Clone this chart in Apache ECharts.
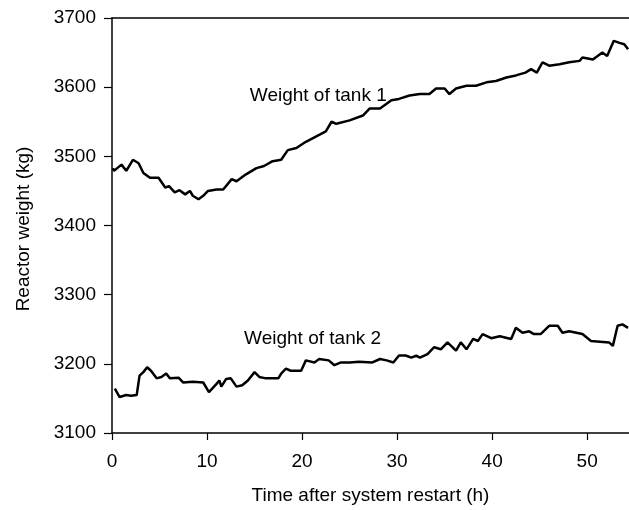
<!DOCTYPE html>
<html>
<head>
<meta charset="utf-8">
<script src="https://cdn.jsdelivr.net/npm/echarts@6/dist/echarts.min.js"></script>
<style>
  html, body { margin: 0; padding: 0; background: #fff; }
  #main { width: 629px; height: 510px; }
</style>
</head>
<body>
<div id="main"></div>
<script>
// tank 1 (time h, weight kg)
var t1 = [0.1, 0.2, 1.0, 1.5, 2.2, 2.8, 3.3, 4.0, 4.9, 5.6, 6.0, 6.6, 7.1, 7.7, 8.2, 8.5, 9.1, 9.6, 10.1, 11.0, 11.7, 12.6, 13.1, 14.1, 15.2, 16.0, 16.9, 17.8, 18.5, 19.4, 20.4, 21.5, 22.5, 23.1, 23.6, 25.0, 26.4, 27.1, 28.2, 29.4, 30.2, 31.3, 32.4, 33.4, 34.1, 35.0, 35.5, 36.2, 37.3, 38.3, 39.4, 40.4, 41.5, 42.5, 43.5, 44.1, 44.7, 45.3, 46.0, 47.1, 48.1, 49.2, 49.5, 50.6, 51.6, 52.1, 52.8, 53.4, 53.9, 54.3];
var w1 = [3483, 3479, 3488, 3479, 3495, 3490, 3476, 3469, 3469, 3455, 3457, 3448, 3451, 3445, 3450, 3443, 3438, 3443, 3450, 3452, 3452, 3467, 3464, 3474, 3483, 3486, 3493, 3495, 3509, 3512, 3521, 3529, 3536, 3550, 3547, 3552, 3559, 3569, 3569, 3581, 3583, 3588, 3590, 3590, 3598, 3598, 3590, 3598, 3602, 3602, 3607, 3609, 3614, 3617, 3621, 3626, 3621, 3636, 3631, 3633, 3636, 3638, 3643, 3640, 3650, 3645, 3667, 3664, 3662, 3655];

// tank 2
var t2 = [0.3, 0.8, 1.5, 2.0, 2.6, 2.9, 3.3, 3.7, 4.1, 4.7, 5.2, 5.7, 6.1, 7.0, 7.5, 8.5, 9.6, 10.2, 11.0, 11.3, 11.5, 12.0, 12.5, 13.1, 13.7, 14.3, 15.0, 15.5, 16.2, 17.5, 17.8, 18.3, 18.8, 19.9, 20.4, 21.3, 21.8, 22.8, 23.4, 24.1, 25.0, 26.0, 27.4, 28.2, 28.9, 29.6, 30.2, 30.9, 31.5, 32.0, 32.4, 33.2, 33.9, 34.6, 35.3, 36.2, 36.7, 37.3, 38.0, 38.5, 39.0, 39.9, 40.8, 42.0, 42.5, 43.2, 43.9, 44.4, 45.1, 46.0, 46.9, 47.4, 48.1, 49.5, 50.4, 52.3, 52.7, 53.2, 53.7, 54.3];
var w2 = [3164, 3152, 3155, 3154, 3155, 3183, 3188, 3195, 3190, 3179, 3181, 3186, 3179, 3180, 3173, 3174, 3173, 3159, 3171, 3176, 3167, 3178, 3179, 3167, 3169, 3176, 3188, 3181, 3179, 3179, 3186, 3193, 3190, 3190, 3205, 3202, 3207, 3205, 3198, 3202, 3202, 3203, 3202, 3207, 3205, 3202, 3212, 3212, 3209, 3212, 3209, 3214, 3224, 3221, 3231, 3219, 3231, 3221, 3236, 3233, 3243, 3237, 3240, 3236, 3252, 3245, 3247, 3243, 3243, 3255, 3255, 3245, 3247, 3243, 3233, 3231, 3226, 3255, 3257, 3252];

var xTicks = [0, 10, 20, 30, 40, 50];
var xTitle = 'Time after system restart (h)';
var yTitle = 'Reactor weight (kg)';
var label1 = 'Weight of tank 1';
var label2 = 'Weight of tank 2';

function pairs(xs, ys) {
  return xs.map(function (x, i) { return [x, ys[i]]; });
}

var font = 'Liberation Sans, Arial, sans-serif';
var myChart = echarts.init(document.getElementById('main'));

myChart.setOption({
  animation: false,
  grid: { left: 112, right: 0, top: 18, bottom: 73 },
  xAxis: [{
    type: 'value',
    min: 0, max: 54.4, interval: 10,
    axisLine: { lineStyle: { color: '#000', width: 1.5 } },
    axisTick: { show: true, inside: false, length: 7, customValues: xTicks,
      lineStyle: { color: '#000', width: 1.2 } },
    axisLabel: { color: '#000', fontSize: 19, fontFamily: font, margin: 19, customValues: xTicks,
      formatter: function (v) { return String(v); } },
    splitLine: { show: false },
    name: xTitle,
    nameLocation: 'middle',
    nameGap: 53,
    nameTextStyle: { color: '#000', fontSize: 19, fontFamily: font }
  }, {
    type: 'value', position: 'top',
    min: 0, max: 54.4,
    axisLine: { show: true, onZero: false, lineStyle: { color: '#000', width: 1.5 } },
    axisTick: { show: false }, axisLabel: { show: false }, splitLine: { show: false }
  }],
  yAxis: {
    type: 'value',
    min: 3100, max: 3700, interval: 100,
    axisLine: { show: true, lineStyle: { color: '#000', width: 1.5 } },
    axisTick: { show: true, inside: false, length: 8, lineStyle: { color: '#000', width: 1.2 } },
    axisLabel: { color: '#000', fontSize: 19, fontFamily: font, margin: 16,
      formatter: function (v) { return String(v); } },
    splitLine: { show: false }
  },
  series: [{
    name: label1, type: 'line', showSymbol: false,
    data: pairs(t1, w1),
    lineStyle: { color: '#000', width: 2.5 }
  }, {
    name: label2, type: 'line', showSymbol: false,
    data: pairs(t2, w2),
    lineStyle: { color: '#000', width: 2.5 }
  }]
});

var p1 = myChart.convertToPixel({ gridIndex: 0 }, [14.5, 3587]);
var p2 = myChart.convertToPixel({ gridIndex: 0 }, [13.9, 3236]);
myChart.setOption({
  graphic: [{
    type: 'text', x: p1[0], y: p1[1],
    style: { text: label1, fill: '#000', font: '19px ' + font, textVerticalAlign: 'middle' }
  }, {
    type: 'text', x: p2[0], y: p2[1],
    style: { text: label2, fill: '#000', font: '19px ' + font, textVerticalAlign: 'middle' }
  }, {
    type: 'text', x: 24, y: 229, rotation: Math.PI / 2,
    style: { text: yTitle, fill: '#000', font: '19px ' + font, textAlign: 'center', textVerticalAlign: 'middle' }
  }]
});
</script>
</body>
</html>
